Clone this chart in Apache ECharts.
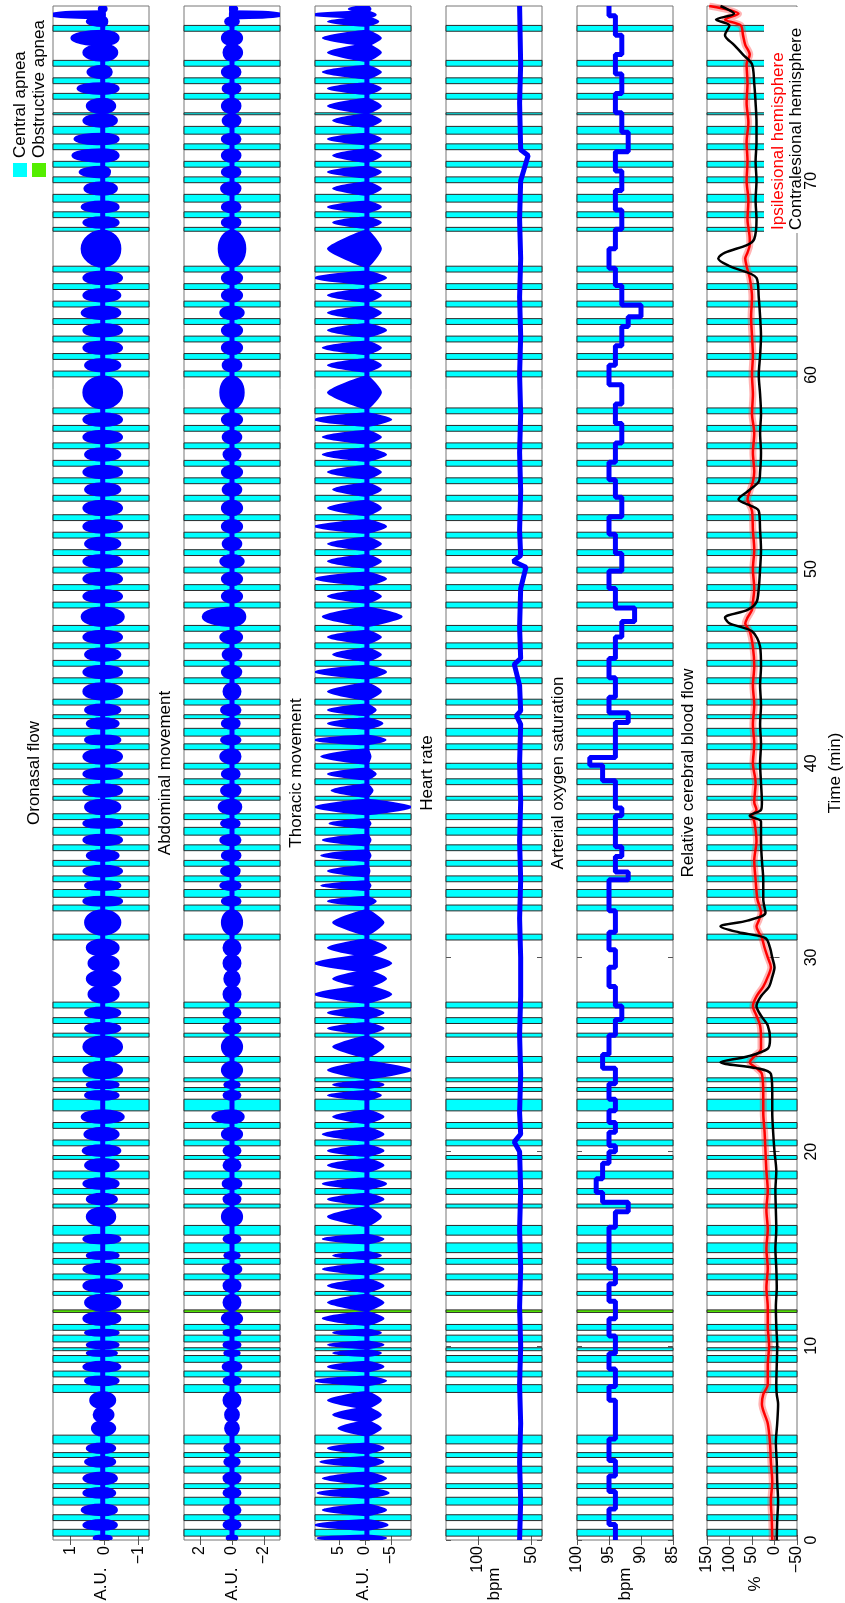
<!DOCTYPE html>
<html><head><meta charset="utf-8">
<script src="https://cdn.jsdelivr.net/npm/echarts@6/dist/echarts.min.js"></script>
<style>html,body{margin:0;padding:0;background:#fff}#c{width:845px;height:1603px}</style>
</head><body><div id="c"></div>
<script>
// ---------------- DATA ----------------
const timeTicks = [0,10,20,30,40,50,60,70];
const timeMax = 79;
const panelTitles = ['Oronasal flow','Abdominal movement','Thoracic movement','Heart rate','Arterial oxygen saturation','Relative cerebral blood flow'];
const panelUnits = ['A.U.','A.U.','A.U.','bpm','bpm','%'];
const panelMin = [-1.3,-3,-8.9,40,85,-50];
const panelMax = [1.5,3,9.6,130,100,150];
const panelTicks = [[-1,0,1],[-2,0,2],[-5,0,5],[50,100],[85,90,95,100],[-50,0,50,100,150]];

const apneaStart = [0.2,1.0,1.8,2.65,3.45,4.25,4.95,7.6,8.4,9.15,9.75,10.2,10.8,12.6,13.4,14.2,14.8,15.7,17.1,17.8,18.6,19.6,20.3,21.2,22.1,23.1,23.6,24.6,25.9,26.6,27.4,30.9,32.4,33.1,33.9,34.7,35.5,36.3,37.1,38.1,38.9,39.7,40.7,41.4,42.3,43.0,44.1,45.0,45.9,46.8,48.0,48.9,49.8,50.7,51.6,52.5,53.5,54.4,55.3,56.2,57.1,58.0,59.9,60.8,61.7,62.6,63.5,64.4,65.3,67.4,68.1,68.9,69.9,70.7,71.6,72.4,73.4,74.2,75.0,75.9,77.7];
const apneaEnd   = [0.55,1.3,2.2,2.9,3.8,4.5,5.4,8.0,8.7,9.5,9.9,10.55,11.1,12.8,13.7,14.5,15.3,16.2,17.3,18.1,19.0,19.8,20.6,21.5,22.7,23.3,23.8,24.9,26.1,26.9,27.7,31.2,32.7,33.5,34.2,35.0,35.8,36.7,37.4,38.3,39.2,40.0,41.0,41.8,42.5,43.3,44.4,45.3,46.2,47.1,48.3,49.2,50.1,51.0,51.9,52.8,53.8,54.7,55.6,56.5,57.4,58.3,60.2,61.1,62.0,62.9,63.8,64.7,65.6,67.6,68.4,69.3,70.2,71.0,71.9,72.8,73.5,74.5,75.3,76.2,78.0];
const obstructiveStart = [11.72];
const obstructiveEnd = [11.85];
// times where a long stretch of breathing splits into separate bursts
const breathSplits = [6.1,6.8,28.5,29.3,30.1,77.0,78.4,78.7];

// respiratory bursts: extreme excursions of each burst (one value per burst, 91 bursts)
const oroBase = 0.05;
const oroPos = [0.3,0.6,0.65,0.6,0.6,0.55,0.5,0.35,0.3,0.4, 0.55,0.6,0.5,0.5,0.55,0.6,0.55,0.6,0.6,0.5, 0.6,0.5,0.5,0.6,0.55,0.62,0.57,0.65,0.55,0.5, 0.6,0.6,0.55,0.55,0.45,0.5,0.45,0.5,0.55,0.6, 0.55,0.6,0.5,0.6,0.6,0.55,0.6,0.6,0.6,0.55, 0.5,0.55,0.6,0.6,0.55,0.6,0.65,0.6,0.6,0.6, 0.55,0.6,0.6,0.55,0.6,0.55,0.6,0.6,0.6,0.55, 0.6,0.6,0.65,0.6,0.6,0.65,0.6,0.65,0.57,0.71, 0.92,0.86,0.6,0.5,0.77,0.48,0.6,0.95,0.5,1.6,0.15];
const oroNeg = [-0.2,-0.35,-0.35,-0.3,-0.35,-0.3,-0.3,-0.3,-0.25,-0.3, -0.4,-0.45,-0.35,-0.4,-0.4,-0.45,-0.45,-0.5,-0.45,-0.4, -0.45,-0.3,-0.35,-0.4,-0.4,-0.45,-0.4,-0.55,-0.4,-0.4, -0.5,-0.5,-0.45,-0.45,-0.4,-0.45,-0.4,-0.4,-0.45,-0.5, -0.45,-0.5,-0.4,-0.5,-0.5,-0.45,-0.5,-0.5,-0.5,-0.45, -0.4,-0.45,-0.5,-0.5,-0.45,-0.5,-0.55,-0.5,-0.5,-0.5, -0.45,-0.5,-0.5,-0.45,-0.5,-0.45,-0.5,-0.5,-0.5,-0.45, -0.5,-0.5,-0.45,-0.45,-0.5,-0.45,-0.4,-0.4,-0.35,-0.15, -0.4,-0.4,-0.35,-0.3,-0.4,-0.2,-0.36,-0.4,-0.07,0.0,-0.05];
const abdBase = 0.0;
const abdPos = [0.3,0.5,0.5,0.5,0.5,0.45,0.45,0.4,0.4,0.5, 0.5,0.55,0.45,0.5,0.5,0.6,0.5,0.5,0.55,0.45, 0.5,0.6,0.5,0.55,0.5,0.5,0.6,1.2,0.5,0.45, 0.6,0.6,0.5,0.5,0.5,0.45,0.5,0.5,0.6,0.6, 0.7,0.65,0.6,0.7,0.65,0.8,0.65,0.6,0.7,0.65, 0.6,0.65,0.5,0.6,0.55,0.7,1.8,0.6,0.6,0.7, 0.55,0.6,0.6,0.55,0.6,0.5,0.55,0.6,0.7,0.55, 0.6,0.6,0.7,0.6,0.6,0.8,0.6,0.6,0.65,0.6, 0.6,0.6,0.55,0.6,0.55,0.6,0.5,0.6,0.4,0.1,0.1];
const abdNeg = [-0.3,-0.5,-0.5,-0.5,-0.5,-0.45,-0.45,-0.4,-0.4,-0.5, -0.5,-0.55,-0.45,-0.5,-0.5,-0.6,-0.5,-0.5,-0.55,-0.45, -0.5,-0.6,-0.5,-0.55,-0.5,-0.5,-0.6,-0.7,-0.5,-0.45, -0.6,-0.6,-0.5,-0.5,-0.5,-0.45,-0.5,-0.5,-0.6,-0.5, -0.5,-0.45,-0.5,-0.5,-0.45,-0.55,-0.5,-0.45,-0.5,-0.5, -0.45,-0.5,-0.5,-0.55,-0.55,-0.6,-0.8,-0.6,-0.6,-0.7, -0.55,-0.6,-0.6,-0.55,-0.6,-0.5,-0.55,-0.6,-0.7,-0.55, -0.6,-0.6,-0.7,-0.6,-0.6,-0.8,-0.5,-0.5,-0.5,-0.5, -0.5,-0.5,-0.5,-0.5,-0.5,-0.5,-0.6,-0.6,-0.4,-3.2,-0.3];
const thoBase = -0.4;
const thoPos = [9,9.6,8,9,8,8.5,7,5,6,7, 9.6,7,6,7,6,8,7,7,8,6, 8,7,7,8,7,7,8,6,7,6, 7,6,7,7,9.6,6,9.6,7,6,7, 8.3,7,8.3,8,6.7,9.6,6.3,7,8.3,9.6, 7,7,7,9.6,6,7,8,7,9.6,7, 7,9.6,7,6,7,8,8,9.6,7,7, 8,7,7,7,9.6,7,6,7,6,7, 6,7,6,7,7,8,7,8,7,10,3];
const thoNeg = [-4,-4.3,-4,-4.5,-4,-3.5,-3.5,-3,-3,-3, -4,-3.5,-3,-3.5,-3,-3.5,-3.5,-3.5,-3.5,-3, -3.5,-3,-3.5,-4,-3.5,-3.5,-3.5,-3.5,-3,-3.5, -8.9,-3.5,-3.5,-3.5,-5,-4,-5,-4,-3.5,-2, -1,-0.8,-1,-1,-1,-8.9,-1.4,-2,-1,-3.9, -3.3,-2,-3,-4,-3,-3,-7,-3,-4,-3, -3,-4,-3,-3,-3,-4,-3,-5,-3,-3, -3,-4,-3,-3,-4,-3,-3,-3,-3,-3, -3,-3,-3,-3,-3,-3,-3,-3,-2.5,-2,-1];

const hrTime  = [0,2,4,6,8,10,12,14,16,18,20,20.5,20.9,22,24,26,28,30,32,34,36,38,40,42,42.45,42.7,44,45.1,45.4,47,49,50.1,50.4,50.7,52,54,56,58,60,62,64,66,68,70,71.3,71.6,74,76,79];
const hrValue = [61,60,61,60,61,60,61,60,61,60,61,66,60,61,60,61,60,60,61,60,61,60,61,60,64,60,61,66,60,61,60,55,67,60,61,60,61,60,61,60,61,60,61,60,53,60,61,60,61];

const spo2Time  = [0,0.8,1.6,2.5,3.3,4.1,5.2,7.2,7.9,8.8, 9.6,10.5,11.4,12.3,13.2,14.0,16.1,16.9,17.4,17.9, 18.6,19.4,20.0,20.3,21.0,21.5,22.1,22.7,23.5,24.3, 25.0,26.0,26.8,27.5,28.5,29.5,30.4,31.3,32.4,33.0, 34.0,34.4,35.2,35.7,37.3,37.7,38.5,39.1,39.9,40.3, 42.1,42.6,43.4,44.4,45.4,46.5,47.3,48.0,49.0,49.9, 50.8,51.8,52.7,53.7,54.6,55.5,56.5,57.5,58.5,59.5, 60.5,61.5,62.5,63.0,63.6,64.6,65.5,66.5,67.5,68.5, 69.5,70.5,71.5,72.5,73.5,74.5,75.5,76.5,77.5,78.5];
const spo2Value = [94,95,94,95,94,95,94,95,94,95, 94,95,94,95,94,95,94,92,96,97, 96,95,94,95,94,95,94,95,94,96, 95,94,93,94,95,94,95,94,95,95, 92,94,93,94,93,94,94,96,98,94, 92,95,94,95,94,93,91,94,95,93, 94,95,93,94,95,94,93,94,93,95, 94,93,92,90,93,94,95,94,93,94, 93,94,92,93,94,93,94,93,94,95];

const cbfTime = [0,1,2,3,4,5,6,7,7.5,8, 9,10,11,12,13,14,15,16,17,18, 19,20,21,22,23,24,24.3,24.6,24.9,25.3, 25.8,26.5,27,27.5,28,28.5,29,29.5,30,30.5, 31,31.3,31.6,31.9,32.3,33,34,35,36,37, 37.3,37.6,38,39,40,41,42,43,44,45, 46,46.8,47.2,47.5,47.9,48.3,49,50,51,52, 53,53.6,54,54.5,55,56,57,58,59,60, 61,62,63,64,65,65.6,66,66.3,66.7,67, 68,69,70,71,72,73,74,75,76,76.5, 77,77.5,78,78.3,78.6,79];
const cbfContra = [-5,-6,-8,-6,-5,-3,-6,-8,-5,-4, -5,-6,-4,-3,-5,-4,-2,-4,-3,-2, -4,0,3,5,5,8,40,120,60,15, 10,15,30,40,30,12,5,0,5,10, 20,80,120,60,20,25,25,28,30,30, 55,30,28,30,32,30,32,30,32,30, 32,50,100,110,60,40,35,32,30,32, 35,80,60,35,32,30,32,30,32,35, 32,30,32,35,40,100,125,110,60,45, 40,42,40,42,40,40,42,45,50,70, 90,110,100,130,90,120];
const cbfIpsi = [5,6,8,5,8,10,15,28,25,15, 15,12,15,15,18,15,18,15,18,15, 18,20,22,25,25,28,40,55,45,30, 30,32,40,48,40,25,15,8,15,22, 28,35,40,35,30,38,42,45,40,45, 50,40,45,42,48,45,48,45,48,45, 48,55,65,60,50,48,45,48,45,48, 50,60,55,48,45,48,45,50,48,50, 48,50,52,50,55,62,65,60,55,55, 60,58,62,60,62,58,62,60,62,55, 65,70,75,110,80,145];

// ---------------- LAYOUT ----------------
const FONT = '"Liberation Sans", Arial, Helvetica, sans-serif';
const gridLeft = [53,184,315,446,577,707];
const gridTop = 6, gridW = 96, gridH = 1534;

// breathing bursts between apnea bands
const allBands = apneaStart.map((s,k)=>[s,apneaEnd[k]]).concat(obstructiveStart.map((s,k)=>[s,obstructiveEnd[k]])).sort((a,b)=>a[0]-b[0]);
const breathStart = [], breathEnd = [];
function pushGap(a,b){ let s=a; breathSplits.filter(x=>x>a&&x<b).forEach(c=>{breathStart.push(s);breathEnd.push(c);s=c;}); breathStart.push(s); breathEnd.push(b); }
let prev = 0; allBands.forEach(b=>{pushGap(prev,b[0]); prev=b[1];}); pushGap(prev,timeMax);

function burstData(pos,neg){ const n=Math.min(breathStart.length,pos.length,neg.length); const d=[]; for(let k=0;k<n;k++) d.push([breathStart[k],breathEnd[k],pos[k],neg[k]]); return d; }

const minus = v => String(v).replace('-', '\u2212');

const grids=[], xAxes=[], yAxes=[], series=[];
panelTitles.forEach((t,i)=>{
  grids.push({left:gridLeft[i], top:gridTop, width:gridW, height:gridH, show:true, borderColor:'#777', borderWidth:1, backgroundColor:'#fff'});
  xAxes.push({type:'value', gridIndex:i, position:'bottom', inverse:true, min:panelMin[i], max:panelMax[i],
    axisLine:{show:false}, splitLine:{show:false},
    axisTick:{inside:true, length:5, lineStyle:{color:'#555'}, customValues:panelTicks[i]},
    axisLabel:{customValues:panelTicks[i], rotate:90, margin:6, fontSize:16, color:'#000', fontFamily:FONT, formatter:minus}});
  xAxes.push({type:'value', gridIndex:i, position:'top', inverse:true, min:panelMin[i], max:panelMax[i],
    axisLine:{show:false}, splitLine:{show:false},
    axisTick:{inside:true, length:5, lineStyle:{color:'#555'}, customValues:panelTicks[i]}, axisLabel:{show:false}});
  yAxes.push({type:'value', gridIndex:i, position:'left', min:0, max:timeMax,
    axisLine:{show:false}, splitLine:{show:false},
    axisTick:{inside:true, length:5, lineStyle:{color:'#555'}, customValues:timeTicks}, axisLabel:{show:false}});
  const last = i===5;
  yAxes.push({type:'value', gridIndex:i, position:'right', min:0, max:timeMax,
    axisLine:{show:false}, splitLine:{show:false},
    axisTick:{inside:true, length:5, lineStyle:{color:'#555'}, customValues:timeTicks},
    axisLabel: last ? {customValues:timeTicks, rotate:90, margin:7, fontSize:16, color:'#000', fontFamily:FONT} : {show:false},
    name: last ? 'Time (min)' : '', nameLocation:'middle', nameRotate:90, nameGap:30,
    nameTextStyle:{fontSize:17, fontFamily:FONT, color:'#000'}});

  const xi = 2*i, yi = 2*i;
  const bandRender = (fill) => function(params, api){
    const cs = params.coordSys;
    const y1 = api.coord([panelMin[i], api.value(1)])[1];
    const y0 = api.coord([panelMin[i], api.value(0)])[1];
    return {type:'rect', shape:{x:cs.x, y:y1, width:cs.width, height:y0-y1}, style:{fill:fill, stroke:'#2a2a2a', lineWidth:1}};
  };
  series.push({type:'custom', xAxisIndex:xi, yAxisIndex:yi, z:1, silent:true, renderItem:bandRender('#00ffff'),
    data: apneaStart.map((s,k)=>[s,apneaEnd[k]])});
  series.push({type:'custom', xAxisIndex:xi, yAxisIndex:yi, z:1, silent:true, renderItem:bandRender('#55ee00'),
    data: obstructiveStart.map((s,k)=>[s,obstructiveEnd[k]])});
});

// respiratory panels
const resp = [[oroBase,oroPos,oroNeg,0.55],[abdBase,abdPos,abdNeg,0.55],[thoBase,thoPos,thoNeg,0.15]];
resp.forEach((r,i)=>{
  const base=r[0], sm=r[3];
  series.push({type:'line', xAxisIndex:2*i, yAxisIndex:2*i, z:3, symbol:'none', silent:true,
    data:[[base,0],[base,timeMax]], lineStyle:{color:'#0000ff', width:5}});
  series.push({type:'custom', xAxisIndex:2*i, yAxisIndex:2*i, z:4, silent:true, clip:true,
    data: burstData(r[1], r[2]),
    renderItem:function(params, api){
      const t0=api.value(0), t1=api.value(1), p=api.value(2), n=api.value(3), tm=(t0+t1)/2;
      const pts=[api.coord([base,t0]), api.coord([p,tm]), api.coord([base,t1]), api.coord([n,tm])];
      return {type:'polygon', shape:{points:pts, smooth:sm}, style:{fill:'#0000ff', stroke:'#0000ff', lineWidth:3}};
    }});
});

// heart rate
series.push({type:'line', xAxisIndex:6, yAxisIndex:6, z:3, symbol:'none', silent:true,
  data: hrTime.map((t,k)=>[hrValue[k],t]), lineStyle:{color:'#0000ff', width:5}});

// SpO2 (stepped samples)
const spo2Pts = [];
spo2Time.forEach((t,k)=>{ const tn = k+1<spo2Time.length ? spo2Time[k+1] : timeMax; spo2Pts.push([spo2Value[k],t]); spo2Pts.push([spo2Value[k],tn]); });
series.push({type:'line', xAxisIndex:8, yAxisIndex:8, z:3, symbol:'none', silent:true,
  data: spo2Pts, lineStyle:{color:'#0000ff', width:5}});

// cerebral blood flow
series.push({type:'line', xAxisIndex:10, yAxisIndex:10, z:3, symbol:'none', silent:true, smooth:0.3,
  data: cbfTime.map((t,k)=>[cbfIpsi[k],t]), lineStyle:{color:'rgba(255,40,40,0.35)', width:7}});
series.push({type:'line', xAxisIndex:10, yAxisIndex:10, z:4, symbol:'none', silent:true, smooth:0.3,
  data: cbfTime.map((t,k)=>[cbfIpsi[k],t]), lineStyle:{color:'#ff0000', width:2.5}});
series.push({type:'line', xAxisIndex:10, yAxisIndex:10, z:5, symbol:'none', silent:true, smooth:0.3,
  data: cbfTime.map((t,k)=>[cbfContra[k],t]), lineStyle:{color:'#000000', width:2.5}});

// ---------------- GRAPHICS (titles, unit labels, legends) ----------------
const R = Math.PI/2;
const graphics = [];
const titleX = [34,165,296,427,558,688];
panelTitles.forEach((t,i)=>graphics.push({type:'text', x:titleX[i], y:773, rotation:R, z:100,
  style:{text:t, font:'17px '+FONT, fill:'#000', align:'center', verticalAlign:'middle'}}));
panelUnits.forEach((u,i)=>graphics.push({type:'text', x:gridLeft[i]+gridW/2, y:1584, rotation:R, z:100,
  style:{text:u, font:'17px '+FONT, fill:'#000', align:'center', verticalAlign:'middle'}}));
// apnea legend
graphics.push({type:'rect', shape:{x:13,y:163,width:14,height:14}, style:{fill:'#00ffff'}, z:100});
graphics.push({type:'rect', shape:{x:32,y:163,width:14,height:14}, style:{fill:'#55ee00'}, z:100});
graphics.push({type:'text', x:20, y:158, rotation:R, z:100, style:{text:'Central apnea', font:'17px '+FONT, fill:'#000', align:'left', verticalAlign:'middle'}});
graphics.push({type:'text', x:39, y:158, rotation:R, z:100, style:{text:'Obstructive apnea', font:'17px '+FONT, fill:'#000', align:'left', verticalAlign:'middle'}});
// CBF legend
graphics.push({type:'rect', shape:{x:764,y:7,width:38,height:226}, style:{fill:'#fff'}, z:90});
graphics.push({type:'text', x:778, y:230, rotation:R, z:100, style:{text:'Ipsilesional hemisphere', font:'17px '+FONT, fill:'#ff0000', align:'left', verticalAlign:'middle'}});
graphics.push({type:'text', x:796, y:230, rotation:R, z:100, style:{text:'Contralesional hemisphere', font:'17px '+FONT, fill:'#000', align:'left', verticalAlign:'middle'}});

const chart = echarts.init(document.getElementById('c'));
chart.setOption({animation:false, backgroundColor:'#fff', grid:grids, xAxis:xAxes, yAxis:yAxes, series:series, graphic:graphics});
</script></body></html>
